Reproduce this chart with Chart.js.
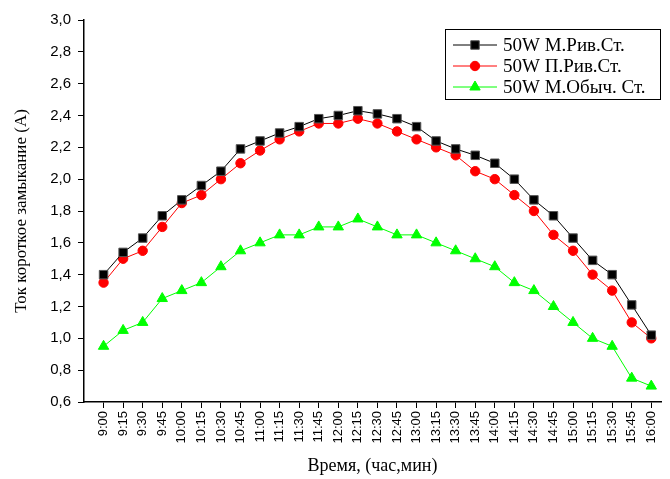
<!DOCTYPE html>
<html>
<head>
<meta charset="utf-8">
<script src="https://cdn.jsdelivr.net/npm/chart.js@4"></script>
<style>
  html, body { margin: 0; padding: 0; background: #fff; }
  #wrap { width: 670px; height: 479px; }
</style>
</head>
<body>
<div id="wrap"><canvas id="tokChart"></canvas></div>
<script>
// Время измерения
const vremya = ['9:00', '9:15', '9:30', '9:45', '10:00', '10:15', '10:30', '10:45', '11:00', '11:15',
    '11:30', '11:45', '12:00', '12:15', '12:30', '12:45', '13:00', '13:15', '13:30', '13:45',
    '14:00', '14:15', '14:30', '14:45', '15:00', '15:15', '15:30', '15:45', '16:00'];

// Ток короткого замыкания, А
const mRivSt = [1.40, 1.54, 1.63, 1.77, 1.87, 1.96, 2.05, 2.19, 2.24, 2.29,
    2.33, 2.38, 2.40, 2.43, 2.41, 2.38, 2.33, 2.24, 2.19, 2.15,
    2.10, 2.00, 1.87, 1.77, 1.63, 1.49, 1.40, 1.21, 1.02];
const pRivSt = [1.35, 1.50, 1.55, 1.70, 1.85, 1.90, 2.00, 2.10, 2.18, 2.25,
    2.30, 2.35, 2.35, 2.38, 2.35, 2.30, 2.25, 2.20, 2.15, 2.05,
    2.00, 1.90, 1.80, 1.65, 1.55, 1.40, 1.30, 1.10, 1.00];
const mObychSt = [0.95, 1.05, 1.10, 1.25, 1.30, 1.35, 1.45, 1.55, 1.60, 1.65,
    1.65, 1.70, 1.70, 1.75, 1.70, 1.65, 1.65, 1.60, 1.55, 1.50,
    1.45, 1.35, 1.30, 1.20, 1.10, 1.00, 0.95, 0.75, 0.70];

const nazvaniya = ['50W М.Рив.Ст.', '50W П.Рив.Ст.', '50W М.Обыч. Ст.'];

const toPoints = arr => arr.map((v, i) => ({ x: i, y: v }));

// Легенда в рамке внутри области графика
const legendBox = {
    id: 'legendBox',
    afterDraw(chart) {
        const ctx = chart.ctx;
        ctx.save();
        ctx.strokeStyle = '#000';
        ctx.lineWidth = 1;
        ctx.strokeRect(445.5, 29.5, 215, 70);
        chart.data.datasets.forEach((ds, i) => {
            const y = 45 + i * 21;
            ctx.strokeStyle = ds.borderColor;
            ctx.lineWidth = 1;
            ctx.beginPath();
            ctx.moveTo(453, y);
            ctx.lineTo(497, y);
            ctx.stroke();
            ctx.fillStyle = ds.pointBackgroundColor;
            ctx.strokeStyle = ds.pointBorderColor;
            Chart.helpers.drawPoint(ctx, { pointStyle: ds.pointStyle, radius: ds.pointRadius, rotation: 0, borderWidth: 1 }, 475, y);
            ctx.fillStyle = '#000';
            ctx.font = '19px "Liberation Serif"';
            ctx.textBaseline = 'middle';
            ctx.fillText(ds.label, 503, y + 1);
        });
        ctx.restore();
    }
};

const ctx = document.getElementById('tokChart').getContext('2d');
new Chart(ctx, {
    type: 'line',
    data: {
        datasets: [
            {
                label: nazvaniya[0], data: toPoints(mRivSt),
                borderColor: '#000', borderWidth: 1,
                pointStyle: 'rect', pointRadius: 6,
                pointBackgroundColor: '#000', pointBorderColor: '#555', pointBorderWidth: 1
            },
            {
                label: nazvaniya[1], data: toPoints(pRivSt),
                borderColor: '#ff0000', borderWidth: 1,
                pointStyle: 'circle', pointRadius: 4.7,
                pointBackgroundColor: '#ff0000', pointBorderColor: '#ff0000', pointBorderWidth: 1
            },
            {
                label: nazvaniya[2], data: toPoints(mObychSt),
                borderColor: '#00ff00', borderWidth: 1,
                pointStyle: 'triangle', pointRadius: 6,
                pointBackgroundColor: '#00ff00', pointBorderColor: '#00ff00', pointBorderWidth: 1
            }
        ]
    },
    options: {
        responsive: true,
        maintainAspectRatio: false,
        animation: false,
        layout: { padding: { top: 20, right: 3, left: 0, bottom: 0 } },
        plugins: {
            legend: { display: false },
            tooltip: { enabled: false }
        },
        scales: {
            x: {
                type: 'linear',
                min: -1,
                max: 28.5,
                afterBuildTicks: scale => { scale.ticks = vremya.map((_, i) => ({ value: i })); },
                afterFit: scale => { scale.height = 77; },
                ticks: {
                    autoSkip: false,
                    minRotation: 90,
                    maxRotation: 90,
                    color: '#000',
                    font: { family: '"Liberation Sans"', size: 13 },
                    padding: 3,
                    callback: v => vremya[v] ?? ''
                },
                grid: { drawOnChartArea: false, drawTicks: true, tickLength: 6, color: '#000' },
                border: { display: true, color: '#000', width: 1.5 },
                title: {
                    display: true,
                    text: 'Время, (час,мин)',
                    color: '#000',
                    font: { family: '"Liberation Serif"', size: 18 },
                    padding: { top: 0, bottom: 2 }
                }
            },
            y: {
                min: 0.6,
                max: 3.0,
                afterFit: scale => { scale.width = 84; },
                ticks: {
                    stepSize: 0.2,
                    color: '#000',
                    font: { family: '"Liberation Sans"', size: 15 },
                    padding: 7,
                    callback: v => v.toFixed(1).replace('.', ',')
                },
                grid: { drawOnChartArea: false, drawTicks: true, tickLength: 6, color: '#000' },
                border: { display: true, color: '#000', width: 1.5 },
                title: {
                    display: true,
                    text: 'Ток короткое замыкание (А)',
                    color: '#000',
                    font: { family: '"Liberation Serif"', size: 17 },
                    padding: { top: 11, bottom: 0 }
                }
            }
        }
    },
    plugins: [legendBox]
});
</script>
</body>
</html>
